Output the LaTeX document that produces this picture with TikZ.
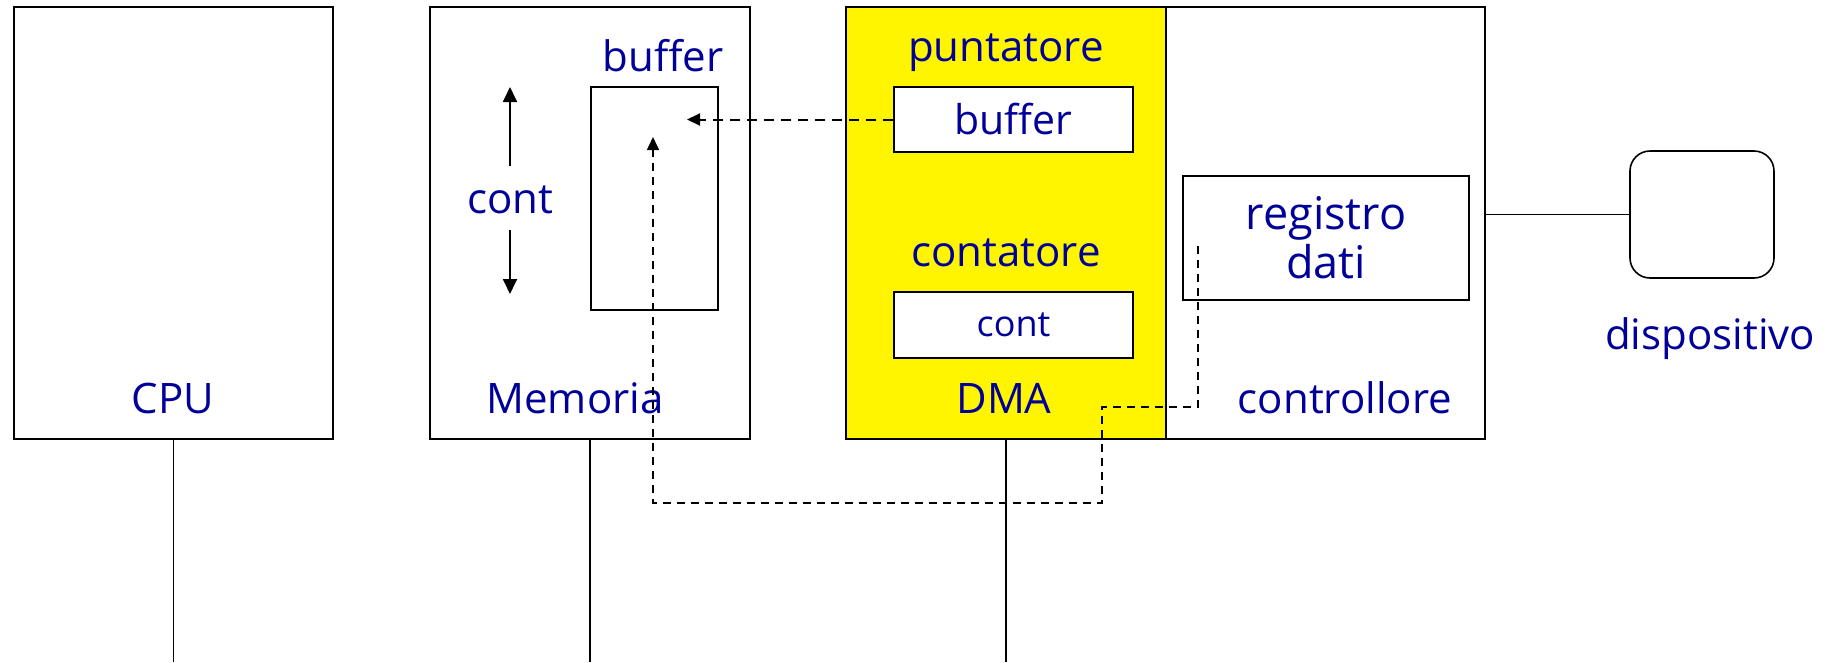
\documentclass[tikz,border=0pt]{standalone}
\usepackage{fontspec}
\setmainfont{Open Sans}
\usetikzlibrary{arrows.meta}
\definecolor{txt}{RGB}{0,0,153}
\definecolor{dmay}{RGB}{255,245,0}
\begin{document}
\begin{tikzpicture}[x=1pt,y=-1pt,
  box/.style={draw=black,line width=1.6pt,rectangle,inner sep=0pt},
  lbl/.style={text=txt,font=\fontsize{42}{48}\selectfont,inner sep=0pt},
  bus/.style={line width=1.5pt},
  tip/.style={-{Triangle[length=15pt,width=14pt]}},
  dtip/.style={-{Triangle[length=13pt,width=12pt]}}]
\useasboundingbox (0,0) rectangle (1834,662);
% main boxes
\node[box,minimum width=319pt,minimum height=432pt] (cpu) at (173.5,223) {};
\node[box,minimum width=320pt,minimum height=432pt] (mem) at (590,223) {};
\node[box,fill=dmay,minimum width=320pt,minimum height=432pt] (dma) at (1006,223) {};
\node[box,minimum width=319pt,minimum height=432pt] (ctrl) at (1325.5,223) {};
% inner boxes
\node[box,fill=white,minimum width=127pt,minimum height=223pt] (mbuf) at (654.5,198.5) {};
\node[box,fill=white,minimum width=239pt,minimum height=65pt] (pbuf) at (1013.5,119.5) {\fontsize{41}{46}\selectfont\color{txt}buffer};
\node[box,fill=white,minimum width=239pt,minimum height=66pt] (cbox) at (1013.5,325) {\fontsize{36}{40}\selectfont\color{txt}cont};
\node[box,fill=white,minimum width=286pt,minimum height=124pt,align=center,text=txt,font=\fontsize{45}{49}\selectfont] (reg) at (1326,238) {registro\\dati};
\node[box,rounded corners=20pt,minimum width=144pt,minimum height=127pt] (dev) at (1702,214.5) {};
% labels
\node[lbl] (cpul) at (173,398) {CPU};
\node[lbl] (meml) at (575,398) {Memoria};
\node[lbl] (dmal) at (1004,398) {DMA};
\node[lbl] (ctrll) at (1345,398) {controllore};
\node[lbl] (bufl) at (663,56) {buffer};
\node[lbl] (contl) at (510,200) {cont};
\node[lbl] (puntl) at (1006,53) {puntatore};
\node[lbl] (contal) at (1006,253) {contatore};
\node[lbl] (devl) at (1710,339) {dispositivo};
% buses
\coordinate (cpub) at (173.5,662);
\coordinate (memb) at (590,662);
\coordinate (dmab) at (1006,662);
\draw[bus] (cpu.south) -- (cpub);
\draw[bus] (mem.south) -- (memb);
\draw[bus] (dma.south) -- (dmab);
\draw[bus] (dev.west) -- (dev.west -| ctrl.east);
% cont arrows
\coordinate (ua) at (510,166);
\coordinate (ub) at (510,87);
\coordinate (da) at (510,230);
\coordinate (db) at (510,294);
\draw[line width=1.8pt,tip] (ua) -- (ub);
\draw[line width=1.8pt,tip] (da) -- (db);
% dashed arrows
\coordinate (ta) at (687,119.5);
\draw[line width=2pt,dash pattern=on 10pt off 7pt,dtip] (pbuf.west) -- (ta);
\coordinate (rs) at (1198,246);
\coordinate (c1) at (1102,407);
\coordinate (c2) at (653,503);
\coordinate (tb) at (653,137);
\draw[line width=1.6pt,dash pattern=on 8pt off 6pt,dtip] (rs) |- (c1) |- (c2) -- (tb);
\end{tikzpicture}
\end{document}
